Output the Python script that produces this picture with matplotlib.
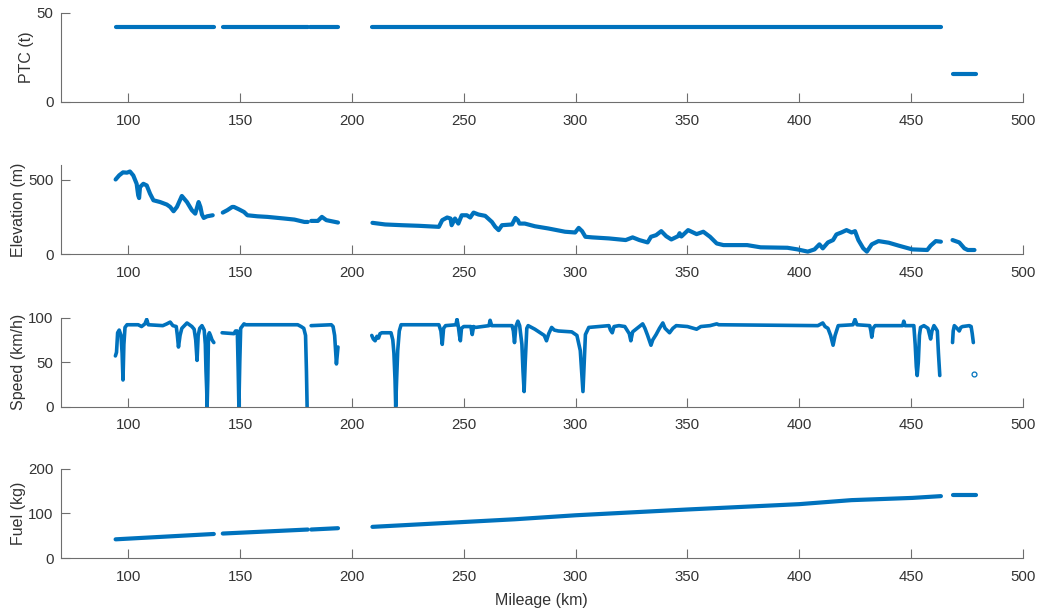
import matplotlib

matplotlib.use("Agg")
import matplotlib.pyplot as plt

# each panel: list of segments (gaps between them are gaps in the record)
ptc_km = [[94.5, 138.3], [142.5, 180.5], [181.5, 193.8], [209.2, 463.3], [468.5, 479.0]]
ptc_t = [[42, 42], [42, 42], [42, 42], [42, 42], [15.5, 15.5]]

elev_km = [
    [94.4, 96.0, 97.7, 99.5, 100.8, 102.3, 103.8, 104.5, 104.9, 105.3, 106.8, 108.3, 109.8, 111.3,
     114.3, 117.3, 118.8, 120.3, 121.8, 124.0, 126.3, 128.5, 130.0, 131.5, 132.3, 133.0, 133.8,
     135.3, 137.8],
    [142.3, 144.3, 146.5, 147.3, 149.5, 151.8, 153.3, 157.8, 162.3, 169.8, 174.3, 178.8, 180.3],
    [181.8, 184.8, 186.6, 188.6, 193.8],
    [209.2, 214.9, 222.4, 229.9, 238.9, 240.4, 242.6, 244.1, 244.6, 246.1, 247.6, 249.1, 251.4,
     252.9, 254.4, 256.6, 259.6, 262.6, 264.1, 265.6, 267.1, 271.6, 273.1, 274.2, 274.9, 277.3,
     281.8, 287.8, 295.3, 299.8, 301.4, 302.9, 304.4, 307.4, 314.9, 322.4, 325.5, 328.5, 332.2,
     333.7, 336.0, 338.3, 340.5, 342.8, 345.8, 346.5, 347.3, 350.3, 354.1, 357.1, 360.1, 363.1,
     366.1, 376.7, 382.7, 394.7, 399.2, 403.8, 406.8, 409.0, 410.5, 412.8, 415.1, 416.6, 418.8,
     421.1, 423.4, 424.9, 426.4, 428.6, 430.2, 432.4, 435.4, 440.0, 444.5, 450.5, 457.2, 458.7,
     461.0, 463.3],
    [468.5, 471.5, 473.8, 475.3, 478.3],
]
elev_m = [
    [502, 530, 550, 548, 556, 529, 473, 395, 377, 451, 473, 462, 406, 362,
     350, 333, 317, 288, 317, 391, 350, 295, 272, 350, 317, 266, 243,
     254, 261],
    [279, 295, 317, 317, 301, 283, 261, 254, 250, 239, 232, 216, 216],
    [223, 223, 250, 228, 212],
    [210, 199, 194, 190, 183, 228, 246, 239, 194, 239, 205, 261, 261,
     246, 279, 266, 257, 216, 183, 161, 194, 199, 243, 228, 205, 205,
     187, 172, 150, 145, 176, 154, 116, 112, 105, 94, 112, 94, 78,
     116, 127, 154, 120, 98, 120, 140, 118, 161, 134, 150, 116, 71,
     60, 60, 45, 42, 31, 16, 31, 65, 38, 78, 94, 132, 145,
     161, 145, 154, 94, 38, 16, 65, 87, 76, 56, 31, 27, 56,
     87, 83],
    [94, 78, 38, 27, 27],
]

speed_km = [
    [94.3, 94.8, 95.3, 96.0, 96.8, 97.3, 97.7, 98.1, 98.6, 99.5, 104.5, 106.0, 107.5, 108.3,
     109.0, 115.5, 117.3, 118.8, 120.0, 121.5, 122.0, 122.5, 123.2, 124.0, 126.3, 128.5, 129.5,
     130.2, 130.8, 131.3, 132.0, 133.0, 134.0, 134.5, 134.8, 135.1, 135.3, 135.6, 135.9, 136.3,
     136.8, 137.5, 138.3],
    [142.0, 147.3, 148.0, 148.8, 149.2, 149.5, 149.9, 150.3, 151.8, 152.5, 175.8, 177.3, 178.5,
     179.3, 179.7, 180.0],
    [181.8, 190.8, 191.6, 192.3, 192.8, 193.1, 193.8],
    [208.9, 209.6, 210.4, 211.2, 211.9, 212.6, 213.4, 217.5, 218.3, 218.8, 219.3, 219.6, 220.0,
     220.5, 221.2, 222.0, 238.9, 239.8, 240.4, 241.0, 241.9, 246.5, 247.0, 247.6, 248.1, 248.5,
     249.0, 250.0, 253.2, 253.8, 254.4, 255.3, 261.3, 261.8, 262.5, 271.6, 272.2, 272.7, 273.3,
     274.2, 275.0, 276.0, 276.5, 277.0, 277.5, 278.2, 278.8, 281.8, 283.0, 284.8, 286.0, 287.0,
     288.0, 289.3, 290.5, 292.3, 298.3, 300.6, 302.1, 302.7, 303.3, 303.8, 304.4, 305.9, 314.9,
     315.6, 316.4, 317.2, 319.4, 322.0, 324.0, 324.7, 325.5, 327.0, 330.0, 331.0, 332.2, 333.0,
     333.7, 334.5, 336.0, 337.5, 339.0, 340.0, 342.0, 343.5, 345.0, 350.0, 354.1, 356.0, 360.1,
     363.1, 364.0, 408.3, 410.5, 411.5, 412.8, 414.0, 415.1, 416.0, 417.4, 424.0, 424.9, 425.8,
     431.5, 432.0, 432.4, 433.0, 433.9, 446.2, 446.7, 447.3, 451.2, 451.8, 452.3, 452.7, 453.2,
     453.7, 454.2, 455.7, 457.5, 458.3, 458.7, 459.3, 460.2, 461.0, 461.7, 462.2, 462.8],
    [468.5, 468.8, 469.3, 470.5, 471.5, 472.2, 473.0, 476.0, 476.8, 477.3, 477.8],
]
speed_kmh = [
    [57, 61, 83, 86, 80, 60, 30, 70, 89, 92, 92, 90, 93, 98,
     92, 91, 93, 95, 91, 90, 80, 67, 80, 88, 94, 90, 87,
     75, 52, 80, 88, 91, 86, 70, 40, 20, 0, 30, 80, 83,
     80, 75, 72],
    [83, 82, 85, 85, 40, 0, 50, 88, 93, 92, 92, 90, 88,
     80, 40, 0],
    [91, 92, 90, 80, 60, 48, 67],
    [80, 76, 74, 79, 77, 82, 83, 83, 75, 60, 30, 0, 30,
     63, 85, 92, 92, 85, 70, 88, 91, 92, 98, 90, 80, 74,
     88, 90, 90, 81, 90, 89, 91, 97, 91, 91, 85, 72, 90,
     96, 91, 70, 40, 17, 50, 88, 91, 87, 85, 82, 80, 74,
     82, 89, 86, 85, 84, 80, 63, 40, 17, 45, 81, 89, 91,
     86, 83, 90, 91, 90, 82, 74, 84, 87, 93, 88, 80, 74,
     69, 75, 81, 88, 94, 88, 83, 88, 91, 90, 87, 90, 91,
     93, 92, 91, 94, 90, 88, 80, 69, 80, 91, 92, 98, 92,
     91, 85, 78, 88, 91, 91, 96, 91, 91, 70, 45, 35, 50,
     80, 89, 91, 88, 80, 76, 85, 91, 88, 85, 60, 35],
    [72, 85, 91, 88, 85, 89, 90, 91, 90, 82, 72],
]
speed_outlier_km = [478.3]
speed_outlier_kmh = [37]

fuel_km = [[94.4, 138.3], [142.3, 180.3], [181.8, 193.8],
           [209.2, 272.7, 300.0, 350.0, 400.0, 415.5, 423.3, 450.5, 463.3], [468.5, 479.0]]
fuel_kg = [[42, 54], [55, 64], [64, 67],
           [70, 87, 96, 109, 121, 127, 130, 135, 139], [142, 142]]

PANELS = [
    ("PTC (t)", ptc_km, ptc_t, (0, 50), [0, 50]),
    ("Elevation (m)", elev_km, elev_m, (0, 600), [0, 500]),
    ("Speed (km/h)", speed_km, speed_kmh, (0, 100), [0, 50, 100]),
    ("Fuel (kg)", fuel_km, fuel_kg, (0, 200), [0, 100, 200]),
]

BLUE = "#0072BD"
AXIS_GRAY = "#6e6e6e"
TEXT_GRAY = "#333333"

plt.rcParams["font.family"] = ["Liberation Sans", "DejaVu Sans"]
fig = plt.figure(figsize=(10.54, 6.10), dpi=100)
bottoms = [0.8328, 0.5836, 0.3333, 0.0852]

for (ylabel, kms, vals, ylim, yticks), bottom in zip(PANELS, bottoms):
    ax = fig.add_axes([0.0579, bottom, 0.9127, 0.146])
    lw = 2.6 if ylabel.startswith("Speed") else 3.0
    for km, v in zip(kms, vals):
        ax.plot(km, v, color=BLUE, lw=lw, solid_capstyle="round", solid_joinstyle="round")
    if ylabel.startswith("Speed"):
        ax.plot(speed_outlier_km, speed_outlier_kmh, "o", color=BLUE, mfc="none", ms=3.5, mew=0.9)
    ax.set_xlim(70, 500)
    ax.set_ylim(*ylim)
    ax.set_xticks(range(100, 501, 50))
    ax.set_yticks(yticks)
    ax.set_ylabel(ylabel, fontsize=11.5, color=TEXT_GRAY, labelpad=1.5)
    for side in ("top", "right"):
        ax.spines[side].set_visible(False)
    for side in ("left", "bottom"):
        ax.spines[side].set_color(AXIS_GRAY)
        ax.spines[side].set_linewidth(0.8)
    ax.tick_params(direction="in", length=6.5, width=0.8, color=AXIS_GRAY,
                   labelcolor=TEXT_GRAY, labelsize=10.8)
    ax.tick_params(axis="x", pad=8.5)
    ax.tick_params(axis="y", pad=5.5)

fig.text(0.5135, 0.004, "Mileage (km)", ha="center", va="bottom", fontsize=11.5, color=TEXT_GRAY)
fig.savefig("out.png", dpi=100)
